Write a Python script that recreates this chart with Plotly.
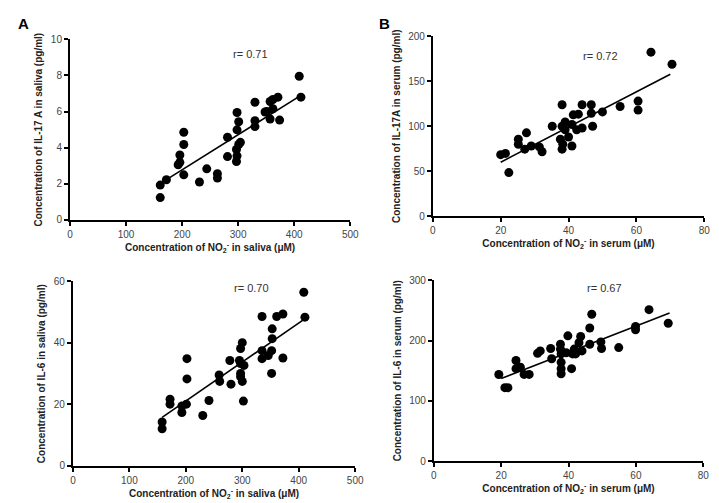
import plotly.graph_objects as go

# Panel A top: NO2- in saliva vs IL-17A in saliva
a1_x = [161, 161, 172, 196, 196, 193, 203, 203, 203, 231, 244, 263, 263, 281, 281,
        298, 301, 298, 301, 297, 298, 297, 304, 330, 330, 330, 348, 351, 357, 362,
        371, 357, 374, 362, 409, 412]
a1_y = [1.93, 1.24, 2.23, 3.6, 3.19, 3.06, 4.86, 4.18, 2.5, 2.1, 2.83, 2.56, 2.32, 4.58, 3.51,
        5.95, 5.44, 4.99, 4.18, 3.9, 3.55, 3.24, 4.3, 5.17, 5.5, 6.52, 5.98, 6.0, 6.56, 6.67,
        6.8, 5.59, 5.53, 6.16, 7.96, 6.8]
a1_fit_x = [160, 412]
a1_fit_y = [2.0, 6.9]

# Panel B top: NO2- in serum vs IL-17A in serum
b1_x = [20, 21.4, 22.4, 25.2, 25.2, 27.1, 27.6, 29, 31.4, 32.2, 35.2, 38.1, 38.1, 37.6,
        38.1, 38.3, 39, 39, 40, 41, 41, 41.4, 42.9, 44, 42.4, 44, 46.7, 46.7, 47.1, 50,
        55.2, 60.5, 60.5, 64.3, 70.5]
b1_y = [68.4, 69.8, 48.4, 85.5, 80, 74.5, 92.7, 78, 77, 71.6, 100, 124, 100, 85.5,
        74.5, 80, 96, 104.7, 88, 78, 102, 112.7, 113.5, 124, 96, 98, 124, 114.5, 100, 116,
        122, 128, 118, 182.5, 169]
b1_fit_x = [20, 70]
b1_fit_y = [60, 158]

# Panel A bottom: NO2- in saliva vs IL-6 in saliva
a2_x = [158, 158, 172, 172, 193, 193, 201, 202, 202, 230, 241, 259, 260, 280, 278,
        300, 297, 295, 297, 297, 297, 300, 302, 303, 335, 335, 335, 346, 352, 352,
        353, 353, 361, 372, 372, 409, 411]
a2_y = [14.3, 12.1, 21.7, 20.1, 19.5, 17.4, 20.1, 34.9, 28.3, 16.4, 21.3, 29.6, 27.5, 26.6, 34.3,
        40.1, 38.2, 34.3, 33.3, 30.1, 29.0, 27.5, 21.1, 32.7, 48.6, 34.9, 37.5, 35.9, 30.1, 37.5,
        41.4, 44.6, 48.6, 49.4, 35.1, 56.5, 48.4]
a2_fit_x = [158, 412]
a2_fit_y = [15.8, 48.0]

# Panel B bottom: NO2- in serum vs IL-6 in serum
b2_x = [19.3, 21.1, 22, 24.4, 24.4, 25.7, 26.8, 28.3, 30.8, 31.6, 34.7, 35, 37.6, 37.6,
        37.8, 37.8, 37.8, 37.8, 39.3, 39.8, 40.9, 41.2, 41.7, 42.1, 43.1, 43.6, 44, 46.3,
        46.3, 46.9, 49.6, 49.8, 54.9, 59.9, 59.9, 63.9, 69.6]
b2_y = [143.8, 122, 122, 167, 153.5, 156, 144, 144, 179, 183, 187, 170, 194, 186,
        178, 164, 153.5, 145, 180, 208, 153.5, 178, 186, 178, 196.5, 207, 183, 221,
        194, 244, 198, 187, 188.5, 223.5, 218, 251.5, 229]
b2_fit_x = [20, 70]
b2_fit_y = [137, 246]

r_labels = ["r= 0.71", "r= 0.72", "r= 0.70", "r= 0.67"]

W, H = 719, 503
FONT = "Liberation Sans"


def px_dom(a, b):
    return [a / W, b / W]


def py_dom(top, bottom):
    return [1 - bottom / H, 1 - top / H]


panels = [
    dict(x=a1_x, y=a1_y, fx=a1_fit_x, fy=a1_fit_y, xr=[0, 500], xd=100, yr=[0, 10], yd=2,
         xdom=px_dom(60, 345), ydom=py_dom(26, 211),
         xt="Concentration of NO<sub>2</sub><sup>-</sup> in saliva (μM)",
         yt="Concentration of IL-17 A in saliva (pg/ml)", rx=322, ry=9.2),
    dict(x=b1_x, y=b1_y, fx=b1_fit_x, fy=b1_fit_y, xr=[0, 80], xd=20, yr=[0, 200], yd=50,
         xdom=px_dom(429, 705), ydom=py_dom(23, 207),
         xt="Concentration of NO<sub>2</sub><sup>-</sup> in serum (μM)",
         yt="Concentration of IL-17A in serum (pg/ml)", rx=49.5, ry=178),
    dict(x=a2_x, y=a2_y, fx=a2_fit_x, fy=a2_fit_y, xr=[0, 500], xd=100, yr=[0, 60], yd=20,
         xdom=px_dom(63, 350), ydom=py_dom(274, 463),
         xt="Concentration of NO<sub>2</sub><sup>-</sup> in saliva (μM)",
         yt="Concentration of IL-6 in saliva (pg/ml)", rx=317, ry=57.9),
    dict(x=b2_x, y=b2_y, fx=b2_fit_x, fy=b2_fit_y, xr=[0, 80], xd=20, yr=[0, 300], yd=100,
         xdom=px_dom(430, 704), ydom=py_dom(273, 458),
         xt="Concentration of NO<sub>2</sub><sup>-</sup> in serum (μM)",
         yt="Concentration of IL-6 in serum (pg/ml)", rx=50.8, ry=287),
]

fig = go.Figure()
layout = {}
annotations = []
for i, p in enumerate(panels):
    n = "" if i == 0 else str(i + 1)
    xa, ya = "x" + n, "y" + n
    fig.add_trace(go.Scatter(x=p["x"], y=p["y"], mode="markers", xaxis=xa, yaxis=ya,
                             marker=dict(color="black", size=9), showlegend=False))
    fig.add_trace(go.Scatter(x=p["fx"], y=p["fy"], mode="lines", xaxis=xa, yaxis=ya,
                             line=dict(color="black", width=1.6), showlegend=False))
    common = dict(showline=True, linecolor="black", linewidth=2, ticks="outside",
                  ticklen=4, tickwidth=2, tickcolor="black", showgrid=False, zeroline=False,
                  tickfont=dict(family=FONT, size=10, color="#444"))
    layout["xaxis" + n] = dict(domain=p["xdom"], range=p["xr"], dtick=p["xd"], anchor=ya,
                               title=dict(text="<b>" + p["xt"] + "</b>", standoff=5,
                                          font=dict(family=FONT, size=10, color="#222")),
                               **common)
    layout["yaxis" + n] = dict(domain=p["ydom"], range=p["yr"], dtick=p["yd"], anchor=xa,
                               title=dict(text="<b>" + p["yt"] + "</b>", standoff=6,
                                          font=dict(family=FONT, size=10, color="#222")),
                               **common)
    annotations.append(dict(x=p["rx"], y=p["ry"], xref=xa, yref=ya, text=r_labels[i],
                            showarrow=False, font=dict(family=FONT, size=11, color="#333")))

annotations.append(dict(x=5 / W, y=1 - 10 / H, xref="paper", yref="paper", text="<b>A</b>",
                        showarrow=False, xanchor="left", yanchor="middle",
                        font=dict(family=FONT, size=15, color="black")))
annotations.append(dict(x=372 / W, y=1 - 10 / H, xref="paper", yref="paper", text="<b>B</b>",
                        showarrow=False, xanchor="left", yanchor="middle",
                        font=dict(family=FONT, size=15, color="black")))

fig.update_layout(
    width=W, height=H,
    margin=dict(l=0, r=0, t=0, b=0),
    paper_bgcolor="white", plot_bgcolor="white",
    annotations=annotations,
    **layout,
)

fig.write_html("out.html")
